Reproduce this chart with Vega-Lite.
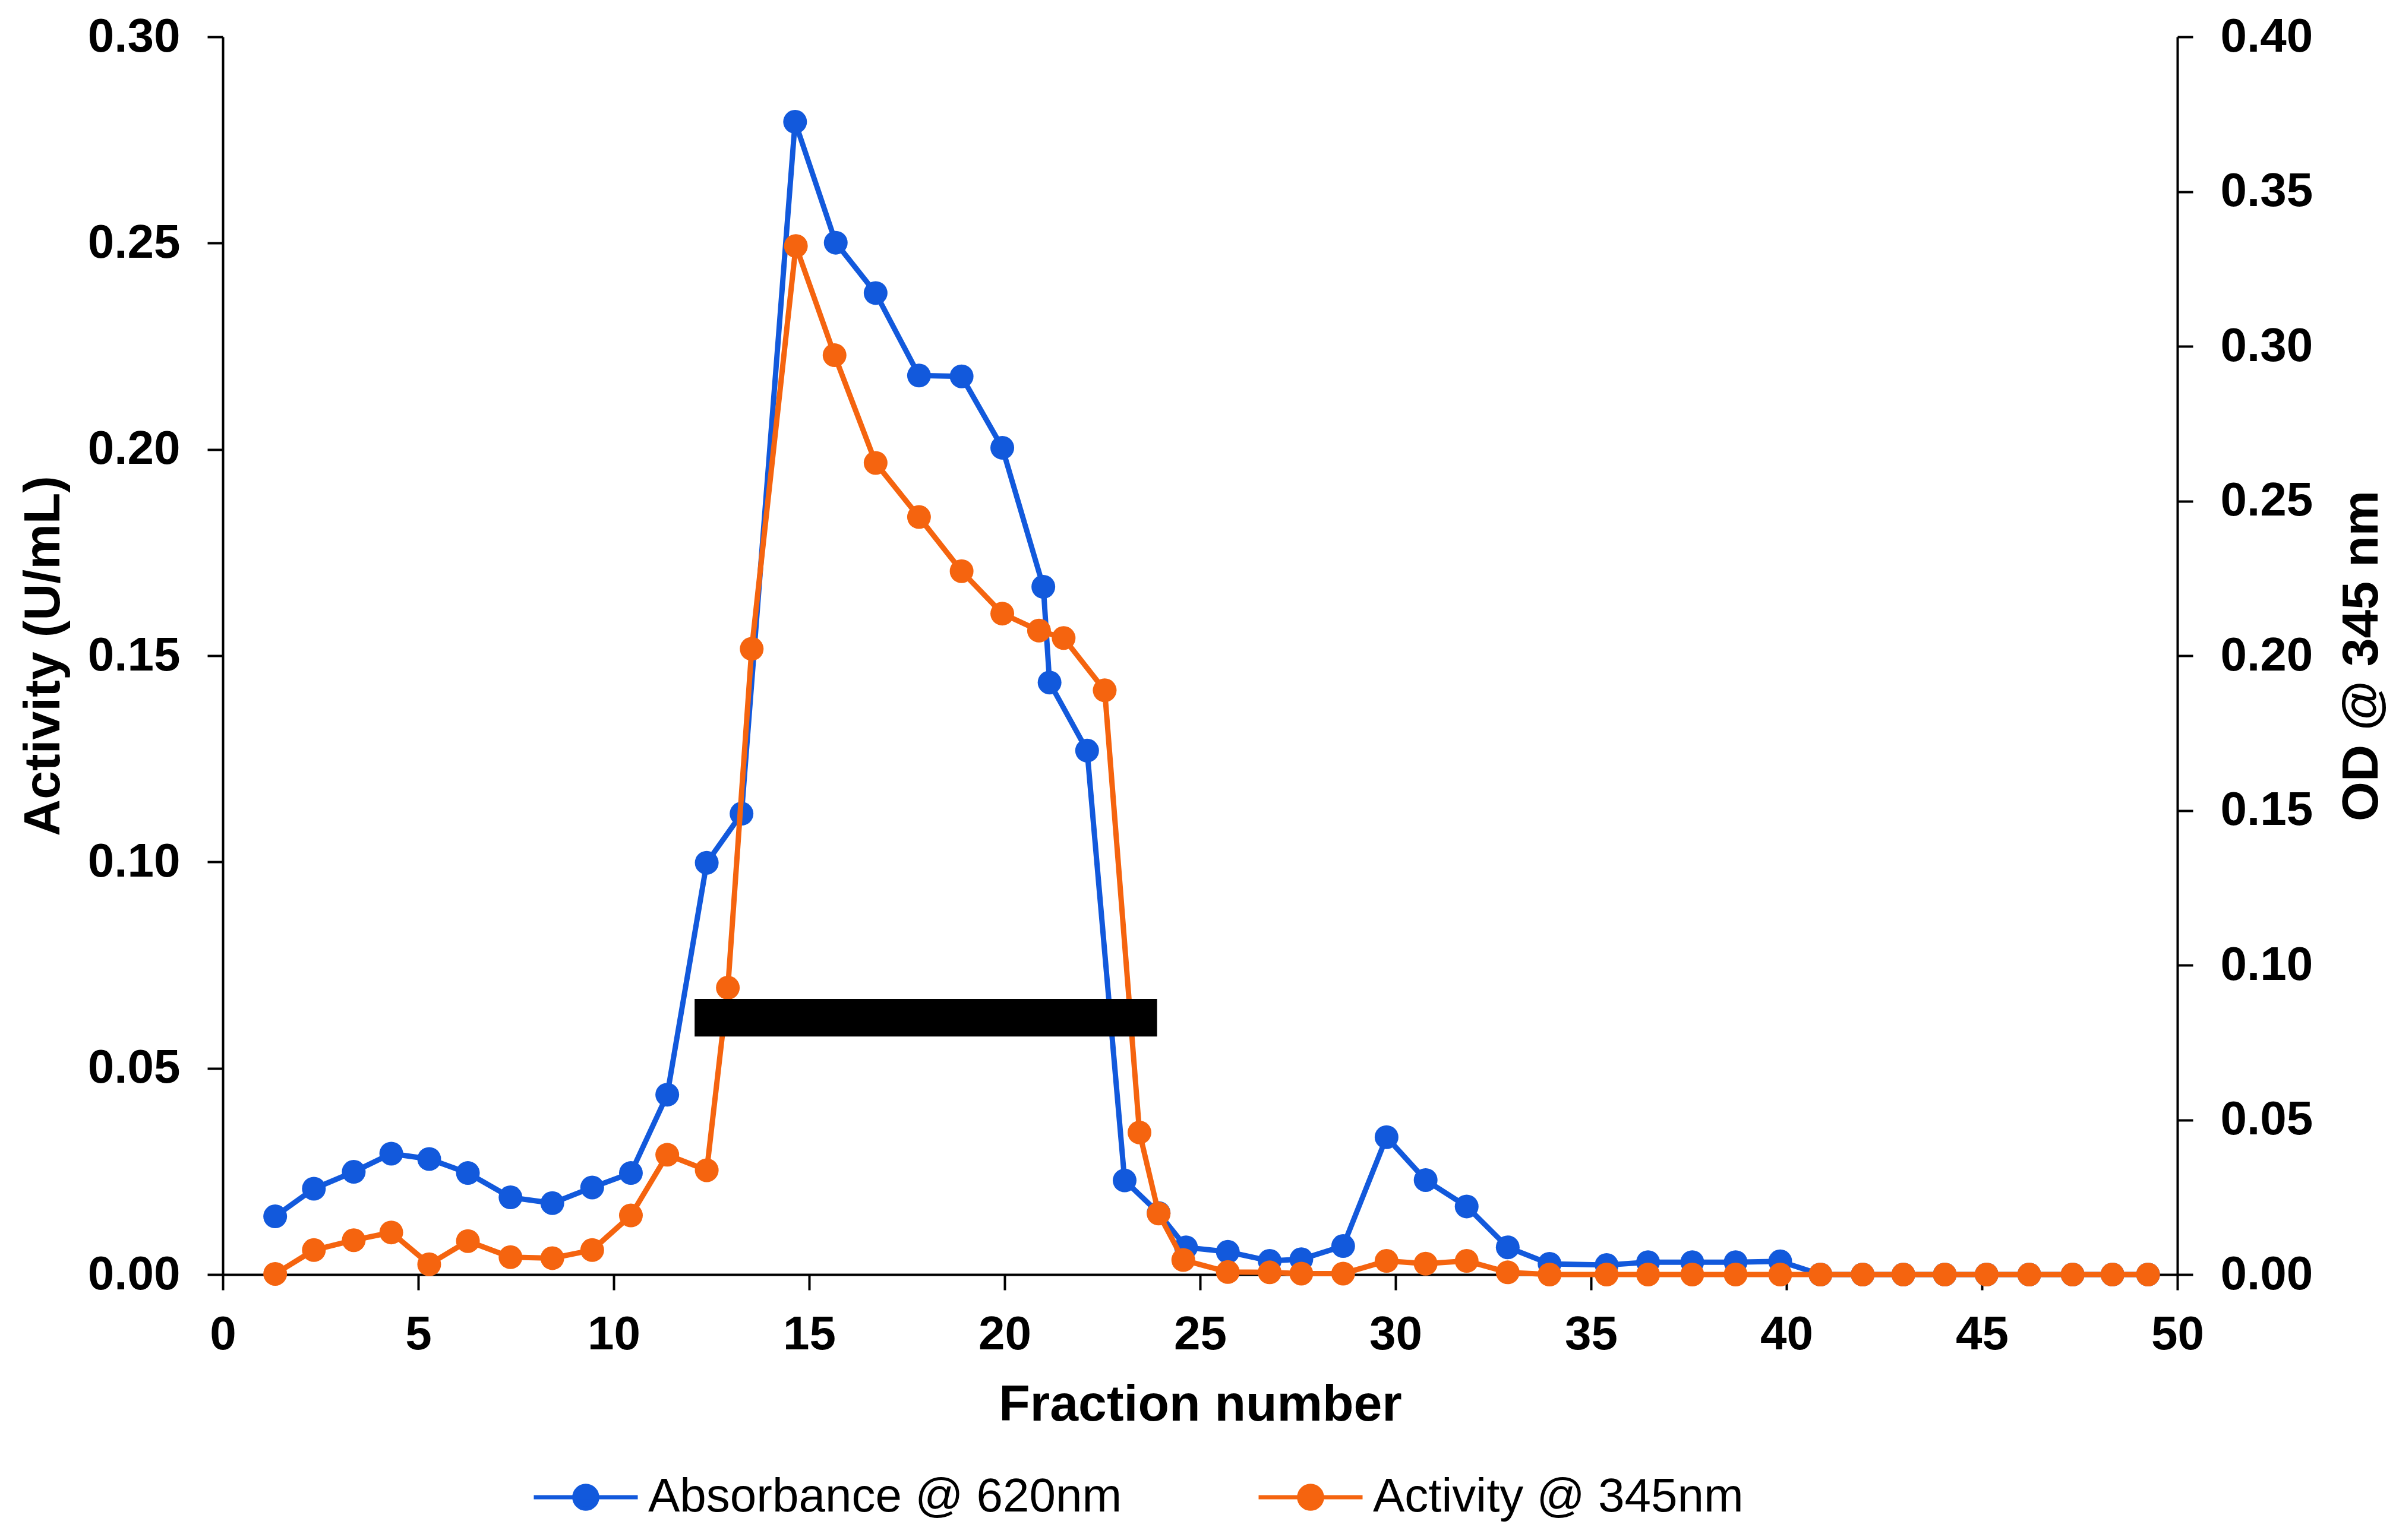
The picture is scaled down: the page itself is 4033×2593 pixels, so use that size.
{
  "$schema": "https://vega.github.io/schema/vega-lite/v6.json",
  "width": 3290,
  "height": 2084,
  "autosize": {"type": "none"},
  "padding": {"left": 375, "top": 62, "right": 368, "bottom": 447},
  "background": "white",
  "datasets": {
    "blue": [
      {"fraction": 1.34, "value": 0.0141, "series": "Absorbance @ 620nm"},
      {"fraction": 2.33, "value": 0.0208, "series": "Absorbance @ 620nm"},
      {"fraction": 3.35, "value": 0.0249, "series": "Absorbance @ 620nm"},
      {"fraction": 4.31, "value": 0.0293, "series": "Absorbance @ 620nm"},
      {"fraction": 5.28, "value": 0.0280, "series": "Absorbance @ 620nm"},
      {"fraction": 6.27, "value": 0.0246, "series": "Absorbance @ 620nm"},
      {"fraction": 7.36, "value": 0.0187, "series": "Absorbance @ 620nm"},
      {"fraction": 8.43, "value": 0.0173, "series": "Absorbance @ 620nm"},
      {"fraction": 9.45, "value": 0.0211, "series": "Absorbance @ 620nm"},
      {"fraction": 10.44, "value": 0.0246, "series": "Absorbance @ 620nm"},
      {"fraction": 11.37, "value": 0.0436, "series": "Absorbance @ 620nm"},
      {"fraction": 12.38, "value": 0.0998, "series": "Absorbance @ 620nm"},
      {"fraction": 13.27, "value": 0.1117, "series": "Absorbance @ 620nm"},
      {"fraction": 14.64, "value": 0.2794, "series": "Absorbance @ 620nm"},
      {"fraction": 15.68, "value": 0.2501, "series": "Absorbance @ 620nm"},
      {"fraction": 16.70, "value": 0.2379, "series": "Absorbance @ 620nm"},
      {"fraction": 17.81, "value": 0.2179, "series": "Absorbance @ 620nm"},
      {"fraction": 18.90, "value": 0.2177, "series": "Absorbance @ 620nm"},
      {"fraction": 19.94, "value": 0.2004, "series": "Absorbance @ 620nm"},
      {"fraction": 20.99, "value": 0.1667, "series": "Absorbance @ 620nm"},
      {"fraction": 21.15, "value": 0.1435, "series": "Absorbance @ 620nm"},
      {"fraction": 22.11, "value": 0.1270, "series": "Absorbance @ 620nm"},
      {"fraction": 23.07, "value": 0.0228, "series": "Absorbance @ 620nm"},
      {"fraction": 23.94, "value": 0.0149, "series": "Absorbance @ 620nm"},
      {"fraction": 24.64, "value": 0.0066, "series": "Absorbance @ 620nm"},
      {"fraction": 25.71, "value": 0.0055, "series": "Absorbance @ 620nm"},
      {"fraction": 26.78, "value": 0.0033, "series": "Absorbance @ 620nm"},
      {"fraction": 27.59, "value": 0.0037, "series": "Absorbance @ 620nm"},
      {"fraction": 28.66, "value": 0.0069, "series": "Absorbance @ 620nm"},
      {"fraction": 29.77, "value": 0.0333, "series": "Absorbance @ 620nm"},
      {"fraction": 30.77, "value": 0.0229, "series": "Absorbance @ 620nm"},
      {"fraction": 31.82, "value": 0.0165, "series": "Absorbance @ 620nm"},
      {"fraction": 32.87, "value": 0.0066, "series": "Absorbance @ 620nm"},
      {"fraction": 33.94, "value": 0.0026, "series": "Absorbance @ 620nm"},
      {"fraction": 35.40, "value": 0.0023, "series": "Absorbance @ 620nm"},
      {"fraction": 36.46, "value": 0.0030, "series": "Absorbance @ 620nm"},
      {"fraction": 37.59, "value": 0.0030, "series": "Absorbance @ 620nm"},
      {"fraction": 38.70, "value": 0.0030, "series": "Absorbance @ 620nm"},
      {"fraction": 39.84, "value": 0.0032, "series": "Absorbance @ 620nm"},
      {"fraction": 40.87, "value": 0, "series": "Absorbance @ 620nm"},
      {"fraction": 41.95, "value": 0, "series": "Absorbance @ 620nm"},
      {"fraction": 42.99, "value": 0, "series": "Absorbance @ 620nm"},
      {"fraction": 44.05, "value": 0, "series": "Absorbance @ 620nm"},
      {"fraction": 45.12, "value": 0, "series": "Absorbance @ 620nm"},
      {"fraction": 46.21, "value": 0, "series": "Absorbance @ 620nm"},
      {"fraction": 47.32, "value": 0, "series": "Absorbance @ 620nm"},
      {"fraction": 48.34, "value": 0, "series": "Absorbance @ 620nm"},
      {"fraction": 49.25, "value": 0, "series": "Absorbance @ 620nm"}
    ],
    "orange": [
      {"fraction": 1.34, "value": 0.0002, "series": "Activity @ 345nm"},
      {"fraction": 2.33, "value": 0.0079, "series": "Activity @ 345nm"},
      {"fraction": 3.35, "value": 0.0111, "series": "Activity @ 345nm"},
      {"fraction": 4.31, "value": 0.0136, "series": "Activity @ 345nm"},
      {"fraction": 5.28, "value": 0.0033, "series": "Activity @ 345nm"},
      {"fraction": 6.27, "value": 0.0108, "series": "Activity @ 345nm"},
      {"fraction": 7.36, "value": 0.0056, "series": "Activity @ 345nm"},
      {"fraction": 8.43, "value": 0.0053, "series": "Activity @ 345nm"},
      {"fraction": 9.45, "value": 0.0079, "series": "Activity @ 345nm"},
      {"fraction": 10.44, "value": 0.0191, "series": "Activity @ 345nm"},
      {"fraction": 11.37, "value": 0.0387, "series": "Activity @ 345nm"},
      {"fraction": 12.38, "value": 0.0337, "series": "Activity @ 345nm"},
      {"fraction": 12.92, "value": 0.0927, "series": "Activity @ 345nm"},
      {"fraction": 13.53, "value": 0.2022, "series": "Activity @ 345nm"},
      {"fraction": 14.66, "value": 0.3324, "series": "Activity @ 345nm"},
      {"fraction": 15.65, "value": 0.2971, "series": "Activity @ 345nm"},
      {"fraction": 16.70, "value": 0.2623, "series": "Activity @ 345nm"},
      {"fraction": 17.81, "value": 0.2448, "series": "Activity @ 345nm"},
      {"fraction": 18.90, "value": 0.2273, "series": "Activity @ 345nm"},
      {"fraction": 19.94, "value": 0.2136, "series": "Activity @ 345nm"},
      {"fraction": 20.88, "value": 0.2081, "series": "Activity @ 345nm"},
      {"fraction": 21.51, "value": 0.2057, "series": "Activity @ 345nm"},
      {"fraction": 22.56, "value": 0.1888, "series": "Activity @ 345nm"},
      {"fraction": 23.45, "value": 0.0459, "series": "Activity @ 345nm"},
      {"fraction": 23.94, "value": 0.0197, "series": "Activity @ 345nm"},
      {"fraction": 24.57, "value": 0.0047, "series": "Activity @ 345nm"},
      {"fraction": 25.71, "value": 0.0008, "series": "Activity @ 345nm"},
      {"fraction": 26.78, "value": 0.0007, "series": "Activity @ 345nm"},
      {"fraction": 27.59, "value": 0.0003, "series": "Activity @ 345nm"},
      {"fraction": 28.66, "value": 0.0003, "series": "Activity @ 345nm"},
      {"fraction": 29.77, "value": 0.0044, "series": "Activity @ 345nm"},
      {"fraction": 30.77, "value": 0.0035, "series": "Activity @ 345nm"},
      {"fraction": 31.82, "value": 0.0044, "series": "Activity @ 345nm"},
      {"fraction": 32.87, "value": 0.0007, "series": "Activity @ 345nm"},
      {"fraction": 33.94, "value": 0, "series": "Activity @ 345nm"},
      {"fraction": 35.40, "value": 0, "series": "Activity @ 345nm"},
      {"fraction": 36.46, "value": 0, "series": "Activity @ 345nm"},
      {"fraction": 37.59, "value": 0, "series": "Activity @ 345nm"},
      {"fraction": 38.70, "value": 0, "series": "Activity @ 345nm"},
      {"fraction": 39.84, "value": 0, "series": "Activity @ 345nm"},
      {"fraction": 40.87, "value": 0, "series": "Activity @ 345nm"},
      {"fraction": 41.95, "value": 0, "series": "Activity @ 345nm"},
      {"fraction": 42.99, "value": 0, "series": "Activity @ 345nm"},
      {"fraction": 44.05, "value": 0, "series": "Activity @ 345nm"},
      {"fraction": 45.12, "value": 0, "series": "Activity @ 345nm"},
      {"fraction": 46.21, "value": 0, "series": "Activity @ 345nm"},
      {"fraction": 47.32, "value": 0, "series": "Activity @ 345nm"},
      {"fraction": 48.34, "value": 0, "series": "Activity @ 345nm"},
      {"fraction": 49.25, "value": 0, "series": "Activity @ 345nm"}
    ],
    "pool": [
      {"start": 12.07, "end": 23.9, "low": 0.0577, "high": 0.0668}
    ]
  },
  "layer": [
    {
      "data": {"name": "blue"},
      "mark": {
        "type": "line",
        "strokeWidth": 9,
        "point": {"filled": true, "size": 1600, "opacity": 1}
      },
      "encoding": {
        "x": {
          "field": "fraction",
          "type": "quantitative",
          "scale": {"domain": [0, 50], "nice": false},
          "axis": {
            "values": [0, 5, 10, 15, 20, 25, 30, 35, 40, 45, 50],
            "format": "d",
            "title": "Fraction number"
          }
        },
        "y": {
          "field": "value",
          "type": "quantitative",
          "scale": {"domain": [0, 0.3], "nice": false},
          "axis": {
            "orient": "left",
            "values": [0, 0.05, 0.1, 0.15, 0.2, 0.25, 0.3],
            "format": ".2f",
            "title": "Activity (U/mL)",
            "titlePadding": 58
          }
        },
        "color": {
          "field": "series",
          "type": "nominal",
          "scale": {
            "domain": ["Absorbance @ 620nm", "Activity @ 345nm"],
            "range": ["#1259DC", "#F5640F"]
          },
          "legend": {
            "orient": "none",
            "legendX": 520,
            "legendY": 2368,
            "direction": "horizontal",
            "title": null,
            "symbolType": "M-1,0L1,0M-0.22,0A0.22,0.22,0,1,0,0.22,0A0.22,0.22,0,1,0,-0.22,0Z",
            "symbolSize": 30625,
            "symbolStrokeWidth": 7,
            "labelFontSize": 80,
            "labelFont": "Liberation Sans",
            "labelFontWeight": "normal",
            "labelColor": "black",
            "labelOffset": 14,
            "columnPadding": 215,
            "labelLimit": 2000,
            "encode": {
              "symbols": {
                "update": {
                  "fill": {"scale": "color", "field": "value"},
                  "stroke": {"scale": "color", "field": "value"},
                  "opacity": {"value": 1}
                }
              }
            }
          }
        }
      }
    },
    {
      "data": {"name": "orange"},
      "mark": {
        "type": "line",
        "strokeWidth": 9,
        "point": {"filled": true, "size": 1600, "opacity": 1}
      },
      "encoding": {
        "x": {"field": "fraction", "type": "quantitative"},
        "y": {
          "field": "value",
          "type": "quantitative",
          "scale": {"domain": [0, 0.4], "nice": false},
          "axis": {
            "orient": "right",
            "values": [0, 0.05, 0.1, 0.15, 0.2, 0.25, 0.3, 0.35, 0.4],
            "format": ".2f",
            "title": "OD @ 345 nm",
            "titleAngle": 270,
            "titleBaseline": "top",
            "titlePadding": 68
          }
        },
        "color": {"field": "series", "type": "nominal"}
      }
    },
    {
      "data": {"name": "pool"},
      "mark": {"type": "rect", "color": "black"},
      "encoding": {
        "x": {"field": "start", "type": "quantitative"},
        "x2": {"field": "end"},
        "y": {"field": "low", "type": "quantitative", "scale": {"domain": [0, 0.3], "nice": false}, "axis": null},
        "y2": {"field": "high"}
      }
    }
  ],
  "resolve": {"scale": {"y": "independent"}},
  "config": {
    "view": {"stroke": null},
    "font": "Liberation Sans",
    "axis": {
      "grid": false,
      "domainColor": "black",
      "domainWidth": 4,
      "tickColor": "black",
      "tickWidth": 4,
      "tickSize": 26,
      "labelPadding": 46,
      "labelFont": "Liberation Sans",
      "labelFontSize": 80,
      "labelFontWeight": "bold",
      "labelColor": "black",
      "titleFont": "Liberation Sans",
      "titleFontSize": 86,
      "titleFontWeight": "bold",
      "titleColor": "black",
      "labelFlush": false,
      "labelOverlap": false
    },
    "axisX": {"labelPadding": 36, "titlePadding": 36}
  }
}
